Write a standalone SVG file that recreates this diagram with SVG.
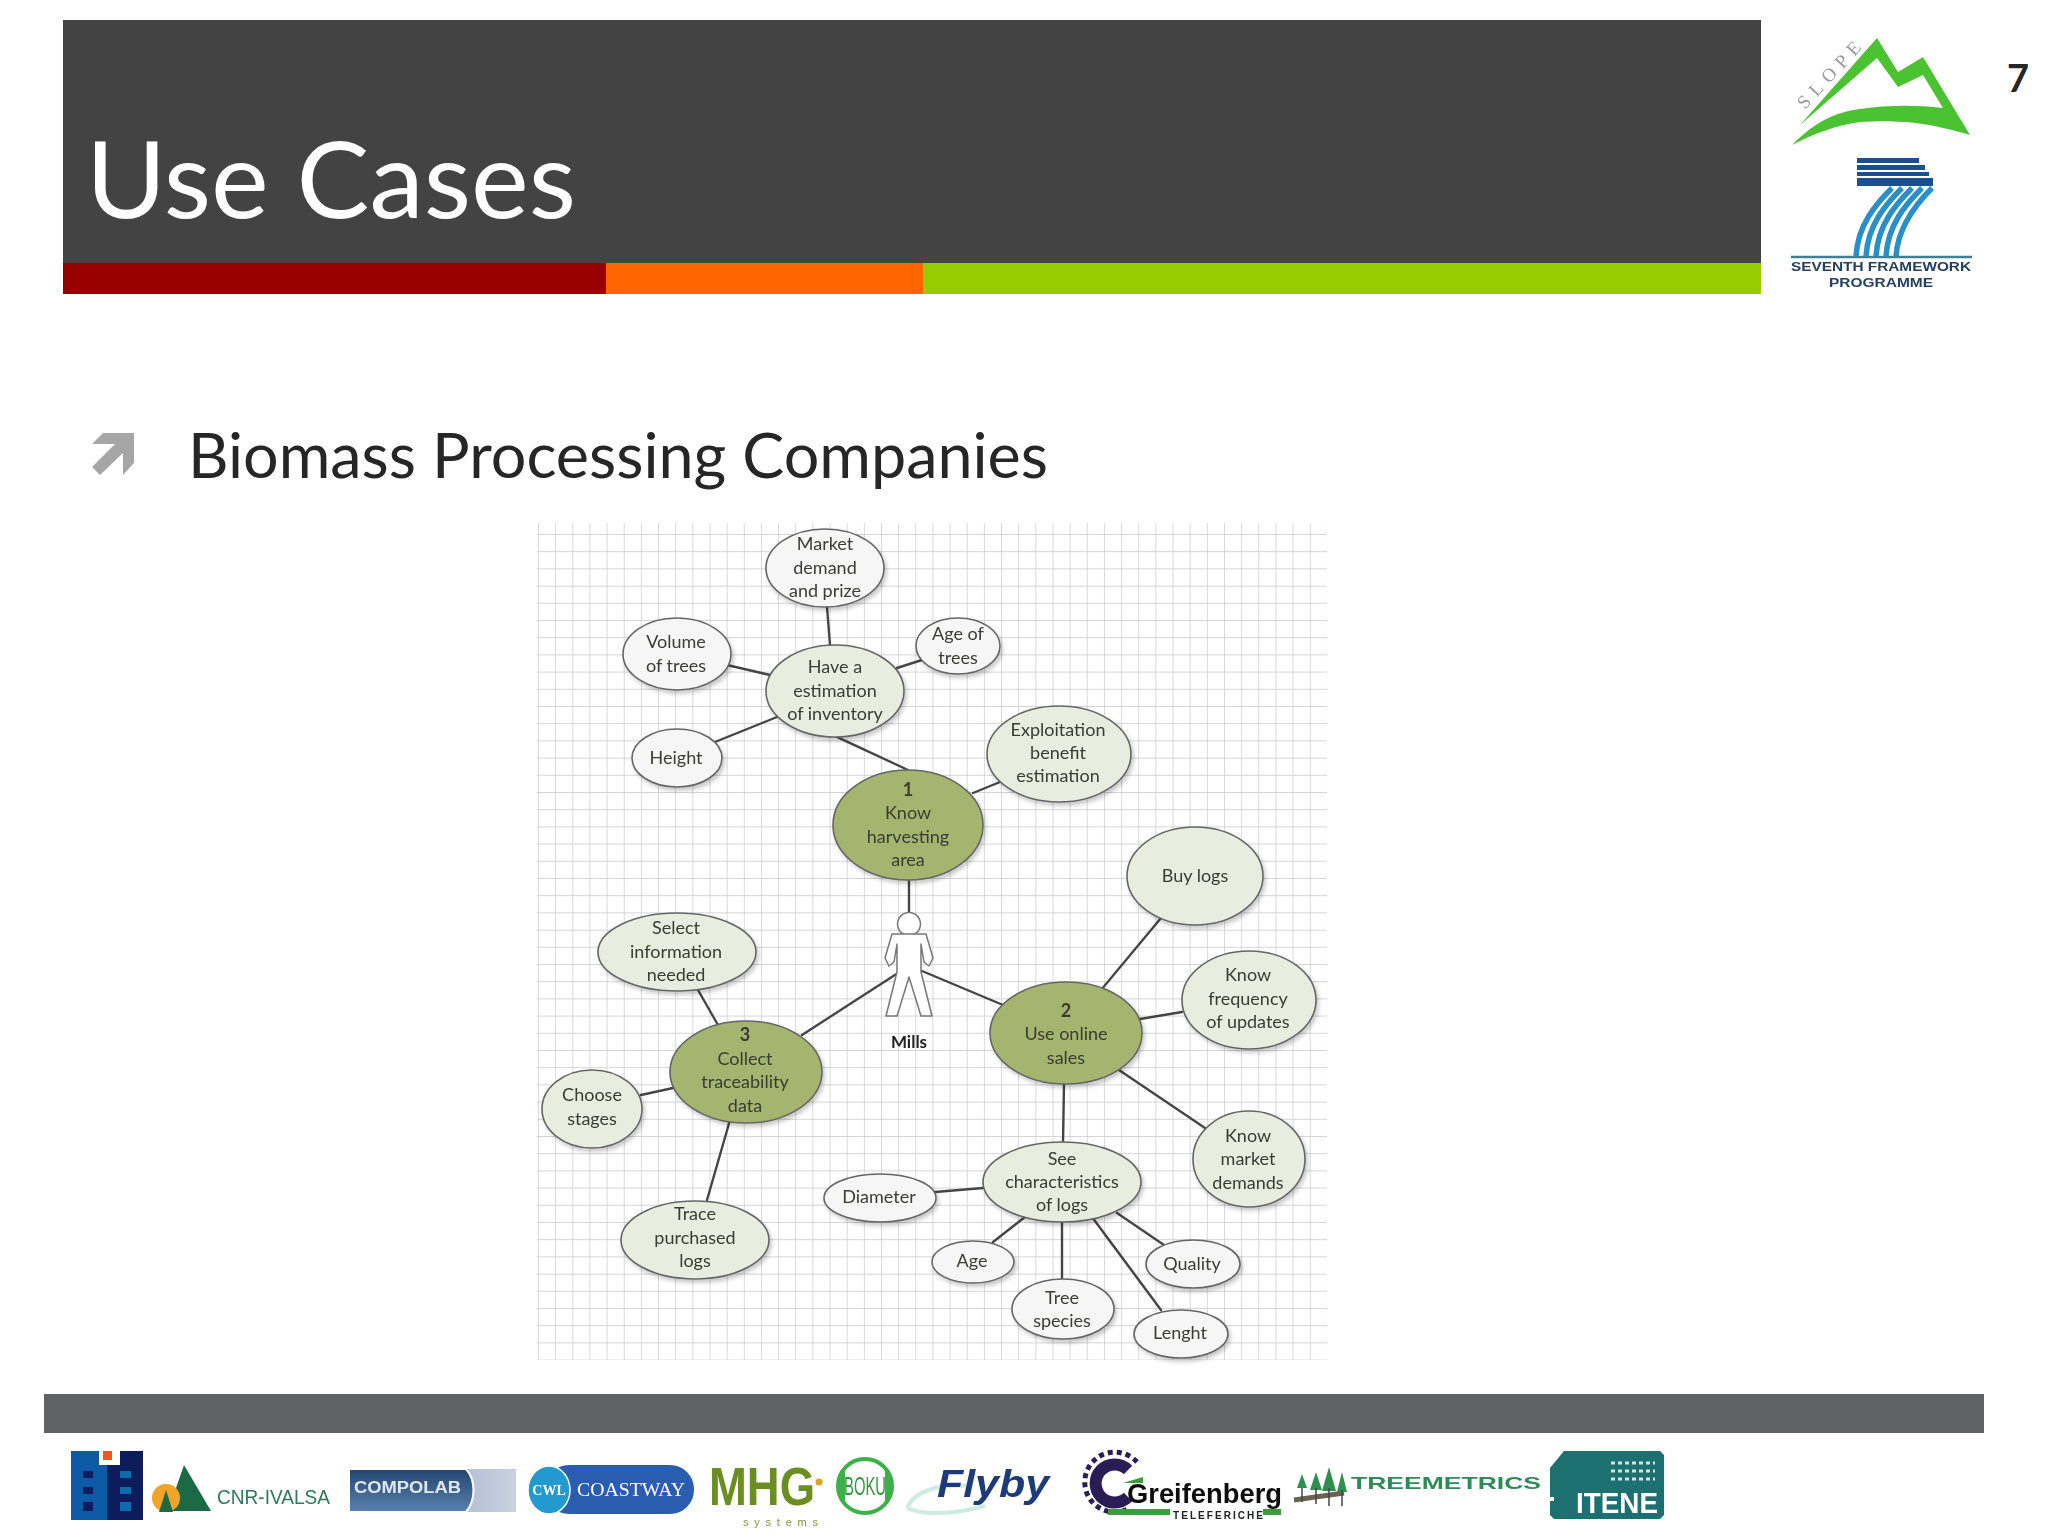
<svg xmlns="http://www.w3.org/2000/svg" width="2048" height="1536" viewBox="0 0 2048 1536">
<style>
.n{font:18px "Lato","Liberation Sans",sans-serif;fill:#3a3d35;text-anchor:middle;transform:translate(0,1px)}
.b{font-weight:700}
.e{stroke:#666;stroke-width:1.6;filter:url(#sh)}
.w{fill:#f6f6f6}.l{fill:#e9eddf}.d{fill:#a5b46e}
.c{stroke:#454545;stroke-width:2.4;fill:none;stroke-linecap:round}
.blur{filter:url(#bl)}
</style>
<defs>
<filter id="sh" x="-20%" y="-20%" width="150%" height="150%"><feDropShadow dx="2" dy="3" stdDeviation="2" flood-color="#000" flood-opacity=".22"/></filter>
<filter id="bl" x="-5%" y="-5%" width="110%" height="110%"><feGaussianBlur stdDeviation=".55"/></filter>
<pattern id="grid" patternUnits="userSpaceOnUse" x="538" y="534" width="17.15" height="17.2"><path d="M0 0V17.2M0 0H17.15" stroke="#c6c6c6" stroke-width="1.3" fill="none"/></pattern>
<linearGradient id="cg" x1="0" y1="0" x2="0" y2="1"><stop offset="0" stop-color="#23466f"/><stop offset="1" stop-color="#5a80ad"/></linearGradient>
<linearGradient id="cg2" x1="0" y1="0" x2="1" y2="0"><stop offset="0" stop-color="#8497b8"/><stop offset="1" stop-color="#c8d2e2"/></linearGradient>
</defs>
<rect width="2048" height="1536" fill="#fff"/>
<g id="header">
<rect x="63" y="20" width="1698" height="243" fill="#434343"/>
<rect x="63" y="263" width="543" height="31" fill="#990000"/>
<rect x="606" y="263" width="317" height="31" fill="#ff6600"/>
<rect x="923" y="263" width="838" height="31" fill="#99cc00"/>
<text x="86" y="218" font-family="Lato,'Liberation Sans',sans-serif" font-size="106" fill="#fff" textLength="490" lengthAdjust="spacingAndGlyphs">Use Cases</text>
</g>
<text id="page" x="2018" y="92" text-anchor="middle" font-family="Lato,'Liberation Sans',sans-serif" font-weight="700" font-size="38" fill="#262626">7</text>
<path id="bullet" d="M103 433H134V463L123 475V453L100 475 92 467 115 444H92Z" fill="#a6a6a6"/>
<text id="subtitle" x="188" y="478" font-family="Lato,'Liberation Sans',sans-serif" font-size="61" fill="#262626" textLength="860" lengthAdjust="spacingAndGlyphs">Biomass Processing Companies</text>

<rect id="grid-bg" x="537" y="523" width="790" height="837" fill="url(#grid)"/>
<g class="blur">
<g id="connectors">
<path class="c" d="M827 607L830 645M727 665L770 675M897 668L922 660M715 742L777 717M837 737L908 770M973 793L1000 782M909 880V912M922 971L1003 1005M898 973L802 1035M1161 918L1101 990M1182 1012L1140 1019M1205 1128L1119 1070M1064 1084L1063 1143M983 1188L935 1192M1025 1217L993 1242M1062 1220V1279M1092 1217L1161 1310M1117 1213L1164 1245M698 990L718 1025M641 1095L673 1088M730 1120L707 1200"/>
</g>
<g id="n-market"><ellipse class="e w" cx="825" cy="568" rx="59" ry="39"/><text class="n"><tspan x="825" y="549">Market</tspan><tspan x="825" y="573">demand</tspan><tspan x="825" y="596">and prize</tspan></text></g>
<g id="n-volume"><ellipse class="e w" cx="677" cy="654" rx="54" ry="36"/><text class="n"><tspan x="676" y="647">Volume</tspan><tspan x="676" y="671">of trees</tspan></text></g>
<g id="n-inventory"><ellipse class="e l" cx="835" cy="691" rx="69" ry="46"/><text class="n"><tspan x="835" y="672">Have a</tspan><tspan x="835" y="696">estimation</tspan><tspan x="835" y="719">of inventory</tspan></text></g>
<g id="n-height"><ellipse class="e w" cx="677" cy="758" rx="45" ry="29"/><text class="n" x="676" y="763">Height</text></g>
<g id="n-age-trees"><ellipse class="e w" cx="958" cy="646" rx="42" ry="28"/><text class="n"><tspan x="958" y="639">Age of</tspan><tspan x="958" y="663">trees</tspan></text></g>
<g id="n-exploitation"><ellipse class="e l" cx="1059" cy="754" rx="72" ry="48"/><text class="n"><tspan x="1058" y="735">Exploitation</tspan><tspan x="1058" y="758">benefit</tspan><tspan x="1058" y="781">estimation</tspan></text></g>
<g id="n-1"><ellipse class="e d" cx="908" cy="825" rx="75" ry="55"/><text class="n"><tspan class="b" x="908" y="795">1</tspan><tspan x="908" y="818">Know</tspan><tspan x="908" y="842">harvesting</tspan><tspan x="908" y="865">area</tspan></text></g>
<g id="n-buy"><ellipse class="e l" cx="1195" cy="876" rx="68" ry="49"/><text class="n" x="1195" y="881">Buy logs</text></g>
<g id="n-frequency"><ellipse class="e l" cx="1249" cy="1000" rx="67" ry="49"/><text class="n"><tspan x="1248" y="980">Know</tspan><tspan x="1248" y="1004">frequency</tspan><tspan x="1248" y="1027">of updates</tspan></text></g>
<g id="n-2"><ellipse class="e d" cx="1066" cy="1033" rx="76" ry="51"/><text class="n"><tspan class="b" x="1066" y="1016">2</tspan><tspan x="1066" y="1039">Use online</tspan><tspan x="1066" y="1063">sales</tspan></text></g>
<g id="n-demands"><ellipse class="e l" cx="1249" cy="1159" rx="56" ry="48"/><text class="n"><tspan x="1248" y="1141">Know</tspan><tspan x="1248" y="1164">market</tspan><tspan x="1248" y="1188">demands</tspan></text></g>
<g id="n-characteristics"><ellipse class="e l" cx="1062" cy="1182" rx="79" ry="40"/><text class="n"><tspan x="1062" y="1164">See</tspan><tspan x="1062" y="1187">characteristics</tspan><tspan x="1062" y="1210">of logs</tspan></text></g>
<g id="n-diameter"><ellipse class="e w" cx="880" cy="1198" rx="56" ry="24"/><text class="n" x="879" y="1202">Diameter</text></g>
<g id="n-age"><ellipse class="e w" cx="973" cy="1262" rx="41" ry="21"/><text class="n" x="972" y="1266">Age</text></g>
<g id="n-species"><ellipse class="e w" cx="1063" cy="1309" rx="51" ry="30"/><text class="n"><tspan x="1062" y="1303">Tree</tspan><tspan x="1062" y="1326">species</tspan></text></g>
<g id="n-quality"><ellipse class="e w" cx="1193" cy="1264" rx="47" ry="24"/><text class="n" x="1192" y="1269">Quality</text></g>
<g id="n-lenght"><ellipse class="e w" cx="1181" cy="1334" rx="47" ry="24"/><text class="n" x="1180" y="1338">Lenght</text></g>
<g id="n-3"><ellipse class="e d" cx="746" cy="1072" rx="76" ry="51"/><text class="n"><tspan class="b" x="745" y="1040">3</tspan><tspan x="745" y="1064">Collect</tspan><tspan x="745" y="1087">traceability</tspan><tspan x="745" y="1111">data</tspan></text></g>
<g id="n-select"><ellipse class="e l" cx="677" cy="952" rx="79" ry="39"/><text class="n"><tspan x="676" y="933">Select</tspan><tspan x="676" y="957">information</tspan><tspan x="676" y="980">needed</tspan></text></g>
<g id="n-choose"><ellipse class="e l" cx="592" cy="1109" rx="50" ry="39"/><text class="n"><tspan x="592" y="1100">Choose</tspan><tspan x="592" y="1124">stages</tspan></text></g>
<g id="n-trace"><ellipse class="e l" cx="695" cy="1240" rx="74" ry="39"/><text class="n"><tspan x="695" y="1219">Trace</tspan><tspan x="695" y="1243">purchased</tspan><tspan x="695" y="1266">logs</tspan></text></g>
<g id="n-mills">
<circle cx="909" cy="924" r="11.5" fill="#fff" stroke="#777" stroke-width="1.5"/>
<path d="M892 934H926L933 958 929 966 924 962 921 944V972L932 1016H921L909 977 897 1016H886L897 972V944L894 962 889 966 885 958Z" fill="#fff" stroke="#777" stroke-width="1.5" stroke-linejoin="round"/>
<text class="n b" x="909" y="1047" style="font-size:17px;fill:#222">Mills</text>
</g>
</g>

<g id="logo-slope" class="blur">
<path d="M1800 125L1877 38 1898 72 1923 57 1970 135C1925 122 1900 120 1860 122 1835 125 1812 135 1792 145 1815 122 1835 112 1860 109 1890 105 1915 105 1943 108L1923 75 1898 87 1877 58Z" fill="#4cc232"/>
<text transform="translate(1805 110) rotate(-47)" font-family="'Liberation Serif',serif" font-size="19" fill="#9a9a9a" textLength="84">SLOPE</text>
</g>
<g id="logo-fp7" class="blur">
<path d="M1857 158h62v5h-62zM1857 165h68v5h-68zM1857 172h72v4h-72zM1857 178h76v8h-76z" fill="#1d4f8f"/>
<path d="M1856 256C1858 225 1875 205 1892 188M1866 256C1868 225 1885 205 1902 188M1876 256C1878 225 1895 205 1912 188M1886 256C1888 225 1905 205 1922 188M1896 256C1898 228 1915 205 1932 188" stroke="#2a8fc8" stroke-width="5.5" fill="none"/>
<path d="M1791 257H1972" stroke="#3f7f95" stroke-width="2.5"/>
<text x="1881" y="271" text-anchor="middle" font-family="'Liberation Sans',sans-serif" font-weight="700" font-size="13" fill="#27405f" textLength="180" lengthAdjust="spacingAndGlyphs">SEVENTH FRAMEWORK</text>
<text x="1881" y="287" text-anchor="middle" font-family="'Liberation Sans',sans-serif" font-weight="700" font-size="13" fill="#27405f" textLength="104" lengthAdjust="spacingAndGlyphs">PROGRAMME</text>
</g>

<rect id="footer-bar" x="44" y="1394" width="1940" height="39" fill="#616264"/>
<g id="logos" class="blur">
<g id="logo-building">
<rect x="71" y="1451" width="36" height="69" fill="#0d5aa7"/><rect x="107" y="1451" width="36" height="69" fill="#0a1a5c"/>
<rect x="99" y="1451" width="21" height="14" fill="#fff"/><rect x="103" y="1451" width="9" height="9" fill="#f0591f"/>
<path d="M83 1471h10v7H83zM83 1487h10v7H83zM83 1502h10v9H83z" fill="#0a1a5c"/>
<path d="M120 1471h11v7h-11zM120 1487h11v7h-11zM120 1502h11v9h-11z" fill="#0d6cb0"/>
</g>
<g id="logo-cnr">
<path d="M184 1465L211 1511H168Z" fill="#1f6b45"/>
<circle cx="166" cy="1498" r="14" fill="#f2a32c"/>
<path d="M166 1490L173 1512H159Z" fill="#1f6b45"/>
<text x="217" y="1504" font-family="'Liberation Sans',sans-serif" font-size="20" fill="#2d7a5a" textLength="113" lengthAdjust="spacingAndGlyphs">CNR-IVALSA</text>
</g>
<g id="logo-compolab">
<rect x="349" y="1469" width="167" height="43" fill="url(#cg2)"/>
<path d="M349 1469H466C476 1480 476 1500 466 1512H349Z" fill="url(#cg)" stroke="#fff" stroke-width="2"/>
<text x="354" y="1493" font-family="'Liberation Sans',sans-serif" font-weight="700" font-size="16" fill="#dfe6ef" textLength="107" lengthAdjust="spacingAndGlyphs">COMPOLAB</text>
</g>
<g id="logo-coastway">
<rect x="545" y="1465" width="149" height="49" rx="24" fill="#2a5cb0"/>
<ellipse cx="549" cy="1490" rx="21" ry="24" fill="#2399cf" stroke="#fff" stroke-width="1.5"/>
<text x="549" y="1495" text-anchor="middle" font-family="'Liberation Serif',serif" font-weight="700" font-size="14" fill="#fff">CWL</text>
<text x="577" y="1496" font-family="'Liberation Serif',serif" font-size="19" fill="#fff" textLength="108" lengthAdjust="spacingAndGlyphs">COASTWAY</text>
</g>
<g id="logo-mhg">
<text x="709" y="1505" font-family="'Liberation Sans',sans-serif" font-weight="700" font-size="54" fill="#6b8e23" textLength="106" lengthAdjust="spacingAndGlyphs">MHG</text>
<circle cx="819" cy="1482" r="3.5" fill="#d9a520"/>
<text x="743" y="1526" font-family="'Liberation Sans',sans-serif" font-size="11" fill="#7c9a3a" textLength="75">systems</text>
</g>
<g id="logo-boku">
<circle cx="865" cy="1486" r="27" fill="#fff" stroke="#3eb049" stroke-width="4"/>
<path d="M845 1470A25 25 0 0 0 845 1502ZM885 1470A25 25 0 0 1 885 1502Z" fill="#3eb049"/>
<text x="865" y="1495" text-anchor="middle" font-family="'Liberation Sans',sans-serif" font-size="25" fill="#2f9a3c" textLength="42" lengthAdjust="spacingAndGlyphs">BOKU</text>
</g>
<g id="logo-flyby">
<path d="M907 1508C915 1490 940 1484 970 1486M907 1508C925 1516 955 1514 985 1506" fill="none" stroke="#bfe6da" stroke-width="4" opacity=".8"/>
<text x="937" y="1497" font-family="'Liberation Sans',sans-serif" font-style="italic" font-weight="700" font-size="38" fill="#1f3a7a" textLength="112" lengthAdjust="spacingAndGlyphs">Flyby</text>
</g>
<g id="logo-greifenberg">
<path d="M1128 1470A19 19 0 1 0 1128 1497" fill="none" stroke="#2a1e55" stroke-width="12"/>
<path d="M1137 1462A30 30 0 1 0 1130 1508" fill="none" stroke="#2a1e55" stroke-width="5" stroke-dasharray="5 4"/>
<path d="M1123 1483L1143 1477V1483Z" fill="#3a9c3a"/>
<rect x="1108" y="1509" width="62" height="6" fill="#3a9c3a"/><rect x="1263" y="1509" width="18" height="6" fill="#3a9c3a"/>
<text x="1127" y="1503" font-family="'Liberation Sans',sans-serif" font-weight="700" font-size="28" fill="#111" textLength="155" lengthAdjust="spacingAndGlyphs">Greifenberg</text>
<text x="1173" y="1519" font-family="'Liberation Sans',sans-serif" font-weight="700" font-size="10" fill="#222" textLength="90">TELEFERICHE</text>
</g>
<g id="logo-treemetrics">
<path d="M1294 1500L1344 1493" stroke="#6b6350" stroke-width="5"/>
<path d="M1302 1474l5 14h-10zM1316 1472l6 18h-12zM1329 1467l7 24h-14zM1342 1472l5 20h-10z" fill="#2f8f4f"/>
<path d="M1302 1488v14M1316 1488v16M1329 1488v18M1342 1490v16" stroke="#444" stroke-width="1.5"/>
<text x="1351" y="1489" font-family="'Liberation Sans',sans-serif" font-weight="700" font-size="17" fill="#2e8b57" textLength="190" lengthAdjust="spacingAndGlyphs">TREEMETRICS</text>
</g>
<g id="logo-itene">
<path d="M1564 1451H1660L1664 1455V1515L1660 1519H1554L1550 1515V1501H1554V1497H1550V1468Z" fill="#1f6f6f"/>
<path d="M1611 1463H1655M1611 1471H1655M1611 1479H1655" stroke="#fff" stroke-width="3" stroke-dasharray="4 3" opacity=".8"/>
<text x="1576" y="1513" font-family="'Liberation Sans',sans-serif" font-weight="700" font-size="30" fill="#fff" textLength="82" lengthAdjust="spacingAndGlyphs">ITENE</text>
</g>
</g>
</svg>
